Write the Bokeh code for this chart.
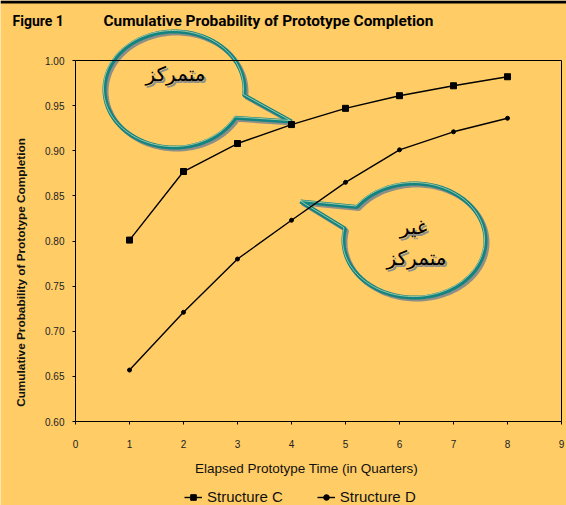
import numpy as np
from bokeh.plotting import figure
from bokeh.models import Label, Legend, LegendItem, FixedTicker, LinearAxis, BoxAnnotation
from bokeh.embed import file_html
from bokeh.resources import INLINE

# ---- data ----
quarters = [1, 2, 3, 4, 5, 6, 7, 8]
structure_c = [0.801, 0.877, 0.908, 0.929, 0.947, 0.961, 0.972, 0.982]
structure_d = [0.657, 0.721, 0.780, 0.823, 0.865, 0.901, 0.921, 0.936]
x_ticks = [0, 1, 2, 3, 4, 5, 6, 7, 8, 9]
y_ticks = [0.60, 0.65, 0.70, 0.75, 0.80, 0.85, 0.90, 0.95, 1.00]
y_tick_labels = ["0.60", "0.65", "0.70", "0.75", "0.80", "0.85", "0.90", "0.95", "1.00"]
title_text = "Cumulative Probability of Prototype Completion"
fig_text = "Figure 1"
x_title = "Elapsed Prototype Time (in Quarters)"
y_title = "Cumulative Probability of Prototype Completion"
callout_1 = "متمركز"
callout_2a = "غير"
callout_2b = "متمركز"

BG = "#FFCC66"
TEAL = "#12837F"
W, H = 566, 505
X0PX, XPX = 75, 54.0          # pixel of x=0, pixels per quarter
Y0PX, YPX = 421, 902.5        # pixel of y=0.60, pixels per 1.0

def dx(px):
    return (px - X0PX) / XPX

def dy(py):
    return 0.60 + (Y0PX - py) / YPX

p = figure(width=W, height=H, x_range=(dx(0), dx(W)), y_range=(dy(H), dy(0)),
           output_backend="svg", toolbar_location=None,
           min_border_left=0, min_border_right=0, min_border_top=0, min_border_bottom=0)
p.background_fill_color = BG
p.border_fill_color = BG
p.outline_line_color = None
p.xgrid.visible = False
p.ygrid.visible = False

p.xaxis.ticker = FixedTicker(ticks=x_ticks)
p.yaxis.ticker = FixedTicker(ticks=y_ticks)
p.yaxis.major_label_overrides = {t: l for t, l in zip(y_ticks, y_tick_labels)}
p.xaxis.fixed_location = y_ticks[0]
p.yaxis.fixed_location = x_ticks[0]
p.xaxis.bounds = (x_ticks[0], x_ticks[-1])
p.yaxis.bounds = (y_ticks[0], y_ticks[-1])
for ax in (p.xaxis, p.yaxis):
    ax.axis_line_color = "black"
    ax.axis_line_width = 1
    ax.major_tick_line_color = "black"
    ax.major_tick_out = 3
    ax.major_tick_in = 0
    ax.minor_tick_line_color = None
    ax.major_label_text_font = "Liberation Sans"
    ax.major_label_text_font_size = "10px"
    ax.major_label_text_color = "#222222"
p.xaxis.major_label_standoff = 15
p.yaxis.major_label_standoff = 8

# frame border (top and right) as plain axes
top_ax = LinearAxis(fixed_location=y_ticks[-1], bounds=(x_ticks[0], x_ticks[-1]),
                    ticker=FixedTicker(ticks=[]), axis_line_color="black",
                    minor_tick_line_color=None, major_tick_line_color=None)
right_ax = LinearAxis(fixed_location=x_ticks[-1], bounds=(y_ticks[0], y_ticks[-1]),
                      ticker=FixedTicker(ticks=[]), axis_line_color="black",
                      minor_tick_line_color=None, major_tick_line_color=None)
p.add_layout(top_ax, "above")
p.add_layout(right_ax, "right")

# black scan band at the very top
p.add_layout(BoxAnnotation(bottom=dy(3), fill_color="black", fill_alpha=1, line_color=None))

# ---- callout bubbles ----
def bubble(cx, cy, rx, ry, ta, tb, tip, off=0):
    t = np.linspace(tb, ta + 2 * np.pi, 160)
    xs = list(cx + rx * np.cos(t)) + [tip[0]]
    ys = list(cy + ry * np.sin(t)) + [tip[1]]
    return [dx(x + off) for x in xs], [dy(y + off) for y in ys]

for spec in [(174, 89, 70, 58, 0.10, 0.51, (291, 121)),
             (414, 240, 71, 57, 3.35, 3.77, (300, 201))]:
    xs, ys = bubble(*spec, off=2)
    p.patch(xs, ys, fill_alpha=0, line_color="#8E8E86", line_width=4)
    xs, ys = bubble(*spec)
    p.patch(xs, ys, fill_alpha=0, line_color=TEAL, line_width=4)
    xs, ys = bubble(*spec, off=-1)
    p.patch(xs, ys, fill_alpha=0, line_color="#D9E4B0", line_width=0.7)

# ---- series ----
lc = p.line(quarters, structure_c, line_color="black", line_width=1.4)
sc = p.scatter(quarters, structure_c, marker="square", size=6, color="black")
ld = p.line(quarters, structure_d, line_color="black", line_width=1.4)
sd = p.scatter(quarters, structure_d, marker="circle", size=4, color="black")

legend = Legend(items=[LegendItem(label="Structure C", renderers=[lc, sc]),
                       LegendItem(label="Structure D", renderers=[ld, sd])],
                orientation="horizontal", location=(184, 0),
                border_line_color=None, background_fill_alpha=0,
                padding=0, margin=0, spacing=34, label_standoff=5,
                glyph_width=18, glyph_height=14,
                label_text_font="Liberation Sans", label_text_font_size="15px",
                label_text_color="#111111")
p.add_layout(legend, "center")

# ---- texts ----
def lab(px, py, text, **kw):
    p.add_layout(Label(x=dx(px), y=dy(py), text=text, **kw))

lab(12, 20, fig_text, text_font="Roboto", text_font_style="bold",
    text_font_size="14px", text_baseline="middle", text_align="left", text_color="black")
lab(103, 20, title_text, text_font="Roboto", text_font_style="bold",
    text_font_size="15.4px", text_baseline="middle", text_align="left", text_color="black")
lab(306, 468, x_title, text_font="Liberation Sans", text_font_size="13.5px",
    text_baseline="middle", text_align="center", text_color="#111111")
lab(20, 272, y_title, text_font="Liberation Sans", text_font_style="bold",
    text_font_size="11.8px", text_baseline="middle", text_align="center",
    text_color="#111111", angle=np.pi / 2)

for (px, py, t) in [(175, 73, callout_1), (413, 226, callout_2a), (416, 257, callout_2b)]:
    lab(px + 2, py + 2, t, text_font="DejaVu Sans", text_font_size="20px",
        text_baseline="middle", text_align="center", text_color="#8E8E86")
    lab(px, py, t, text_font="DejaVu Sans", text_font_size="20px",
        text_baseline="middle", text_align="center", text_color="black")

open("out.html", "w").write(file_html(p, INLINE))
